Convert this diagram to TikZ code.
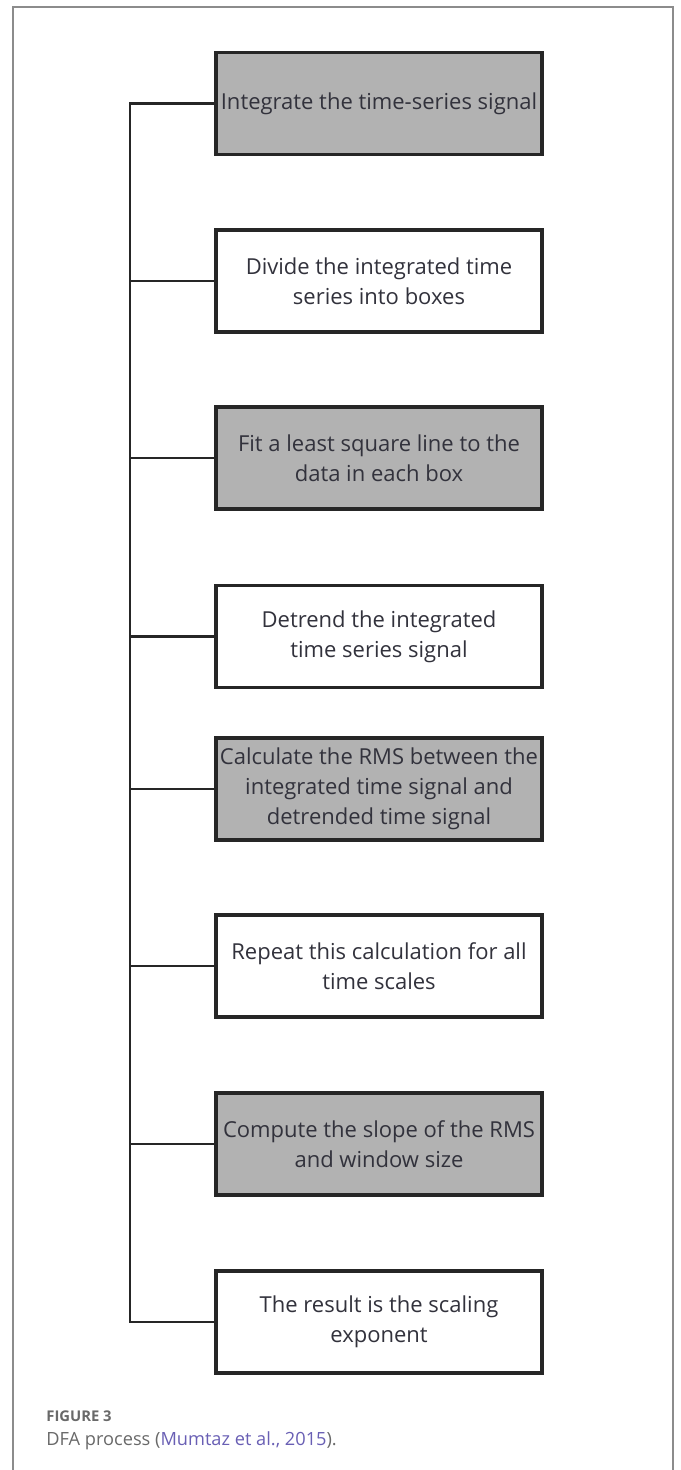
\documentclass[tikz,border=0pt]{standalone}
\usepackage{fontspec}
\setmainfont{Open Sans}
\usepackage{tikz}
\definecolor{boxgray}{RGB}{178,178,178}
\definecolor{boxtext}{RGB}{50,50,60}
\definecolor{framegray}{RGB}{140,140,140}
\definecolor{capgray}{RGB}{105,105,105}
\definecolor{citeblue}{RGB}{105,95,180}
\tikzset{
  plainstep/.style={draw=black!85, line width=1.6pt, fill=white, minimum width=163pt, minimum height=51pt,
    inner sep=0pt, align=center, text=boxtext, font=\fontsize{11}{15}\selectfont},
  shadedstep/.style={plainstep, fill=boxgray},
  conn/.style={draw=black!85, line width=1.4pt}
}

\begin{document}
\begin{tikzpicture}[x=0.5pt, y=-0.5pt]
				%%%%% START %%%%%
				\useasboundingbox (0, 0) rectangle (680, 1470);
				\draw[framegray, line width=0.8pt] (13, 1470) -- (13, 7) -- (673, 7) -- (673, 1470);
				
				\node[shadedstep] (integrate) at (379, 103.5) {Integrate the time-series signal};
				\node[plainstep] (divide) at (379, 281) {Divide the integrated time\\series into boxes};
				\node[shadedstep] (fitline) at (379, 458) {Fit a least square line to the\\data in each box};
				\node[plainstep] (detrend) at (379, 636.5) {Detrend the integrated\\time series signal};
				\node[shadedstep] (rms) at (379, 789) {Calculate the RMS between the\\integrated time signal and\\detrended time signal};
				\node[plainstep] (repeat) at (379, 966) {Repeat this calculation for all\\time scales};
				\node[shadedstep] (slope) at (379, 1144) {Compute the slope of the RMS\\and window size};
				\node[plainstep] (result) at (379, 1322) {The result is the scaling\\exponent};
				
				\coordinate (trunktop) at (130, 103.5);
				\coordinate (trunkbot) at (130, 1322);
				\draw[conn] (integrate.west) -- (trunktop) -- (trunkbot) -- (result.west);
				\draw[conn] (divide.west) -- (divide.west -| trunktop);
				\draw[conn] (fitline.west) -- (fitline.west -| trunktop);
				\draw[conn] (detrend.west) -- (detrend.west -| trunktop);
				\draw[conn] (rms.west) -- (rms.west -| trunktop);
				\draw[conn] (repeat.west) -- (repeat.west -| trunktop);
				\draw[conn] (slope.west) -- (slope.west -| trunktop);
				
				\node[anchor=base west, inner sep=0pt, text=capgray, font=\fontsize{7.4}{8}\selectfont\bfseries] (figlabel) at (46, 1421) {FIGURE 3};
				\node[anchor=base west, inner sep=0pt, text=capgray, font=\fontsize{9.1}{10}\selectfont] (figcaption) at (46, 1445) {DFA process (\textcolor{citeblue}{Mumtaz et al., 2015}).};
				%%%%% END %%%%%
\end{tikzpicture}
\end{document}
